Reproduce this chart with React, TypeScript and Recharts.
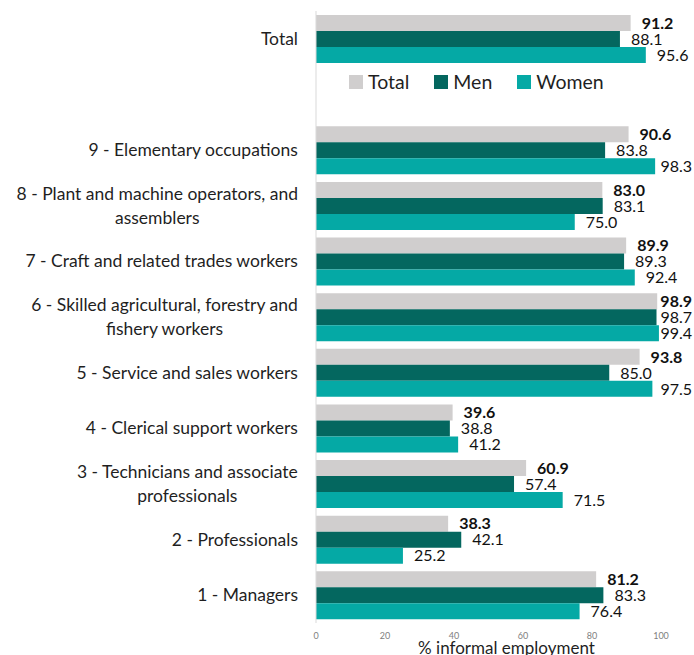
import React from "react";
import { BarChart, Bar, XAxis, YAxis, Legend, LabelList } from "recharts";

const FONT = "Lato, 'Open Sans', sans-serif";
const COLORS = { total: "#d0cece", men: "#04675f", women: "#05a9a5" };

// occupation groups, top to bottom ("" is the spacer row holding the legend)
const categories = [
    "Total",
    "",
    "9 - Elementary occupations",
    "8 - Plant and machine operators, and\nassemblers",
    "7 - Craft and related trades workers",
    "6 - Skilled agricultural, forestry and\nfishery workers",
    "5 - Service and sales workers",
    "4 - Clerical support workers",
    "3 - Technicians and associate\nprofessionals",
    "2 - Professionals",
    "1 - Managers",
];

const totalValues = [91.2, null, 90.6, 83.0, 89.9, 98.9, 93.8, 39.6, 60.9, 38.3, 81.2];
const menValues = [88.1, null, 83.8, 83.1, 89.3, 98.7, 85.0, 38.8, 57.4, 42.1, 83.3];
const womenValues = [95.6, null, 98.3, 75.0, 92.4, 99.4, 97.5, 41.2, 71.5, 25.2, 76.4];

const seriesOrder = ["Total", "Men", "Women"];
const xTicks = [0, 20, 40, 60, 80, 100];

const data = categories.map((name, i) => ({
    name,
    Total: totalValues[i],
    Men: menValues[i],
    Women: womenValues[i],
}));

const TICK_SIZE = 17.5;
const VALUE_SIZE = 16;
const LABEL_RIGHT_LIMIT = 692;

let canvasCtx: CanvasRenderingContext2D | null = null;
function textWidth(s: string, size: number, weight = 400) {
    if (!canvasCtx) canvasCtx = document.createElement("canvas").getContext("2d");
    if (!canvasCtx) return s.length * size * 0.5;
    canvasCtx.font = `${weight} ${size}px ${FONT}`;
    return canvasCtx.measureText(s).width;
}

function CategoryTick(props: any) {
    const { x, y, payload } = props;
    const lines = String(payload.value).split("\n");
    if (!lines[0]) return null;
    const right = x - 10;
    const blockW = Math.max(...lines.map((l) => textWidth(l, TICK_SIZE)));
    const cx = right - blockW / 2;
    const lh = 24;
    const y0 = y - ((lines.length - 1) * lh) / 2;
    return (
        <text textAnchor="middle" fontSize={TICK_SIZE} fill="#1f1f1f" fontFamily={FONT}>
            {lines.map((l, i) => (
                <tspan key={i} x={cx} y={y0 + i * lh} dy="0.35em">
                    {l}
                </tspan>
            ))}
        </text>
    );
}

function valueLabel(bold: boolean) {
    return (props: any) => {
        const { x, y, width, height, value } = props;
        if (value === null || value === undefined) return null;
        const txt = Number(value).toFixed(1);
        const w = textWidth(txt, VALUE_SIZE, bold ? 700 : 400);
        // keep labels inside the chart, as the original does
        const lx = Math.min(x + width + 11, LABEL_RIGHT_LIMIT - w);
        return (
            <text
                x={lx}
                y={y + height / 2}
                dy="0.36em"
                fontSize={VALUE_SIZE}
                fontWeight={bold ? 700 : 400}
                fill="#111"
                fontFamily={FONT}
            >
                {txt}
            </text>
        );
    };
}

function LegendBox(props: any) {
    const items = [...(props.payload || [])].sort(
        (a: any, b: any) => seriesOrder.indexOf(a.value) - seriesOrder.indexOf(b.value)
    );
    return (
        <div style={{ display: "flex", fontFamily: FONT, fontSize: 19.5, color: "#1f1f1f" }}>
            {items.map((it: any) => (
                <div
                    key={it.value}
                    style={{ display: "flex", alignItems: "center", marginRight: 25 }}
                >
                    <span
                        style={{
                            width: 14,
                            height: 14,
                            background: it.color,
                            display: "inline-block",
                            marginRight: 5,
                        }}
                    />
                    <span>{it.value}</span>
                </div>
            ))}
        </div>
    );
}

export default function App() {
    return (
        <div style={{ position: "fixed", top: 0, left: 0, background: "#fff" }}>
            <BarChart
                width={694}
                height={655}
                data={data}
                layout="vertical"
                barSize={16}
                barGap={0}
                margin={{ top: 11, right: 33, bottom: 0, left: 0 }}
                style={{ fontFamily: FONT }}
            >
                <XAxis
                    type="number"
                    domain={[0, 100]}
                    ticks={xTicks}
                    axisLine={false}
                    tickLine={false}
                    tick={{ fontSize: 9, fill: "#808080" }}
                    tickMargin={4}
                    height={32}
                    label={{
                        value: "% informal employment",
                        position: "insideBottom",
                        offset: 1,
                        dx: 18,
                        fontSize: 17,
                        fill: "#1f1f1f",
                    }}
                />
                <YAxis
                    type="category"
                    dataKey="name"
                    width={316}
                    axisLine={{ stroke: "#d9d9d9" }}
                    tickLine={false}
                    interval={0}
                    tick={<CategoryTick />}
                />
                <Legend
                    layout="horizontal"
                    verticalAlign="middle"
                    align="center"
                    content={<LegendBox />}
                    wrapperStyle={{ top: 70, left: 349, width: "auto" }}
                />
                <Bar dataKey="Total" fill={COLORS.total} isAnimationActive={false}>
                    <LabelList dataKey="Total" content={valueLabel(true)} />
                </Bar>
                <Bar dataKey="Men" fill={COLORS.men} isAnimationActive={false}>
                    <LabelList dataKey="Men" content={valueLabel(false)} />
                </Bar>
                <Bar dataKey="Women" fill={COLORS.women} isAnimationActive={false}>
                    <LabelList dataKey="Women" content={valueLabel(false)} />
                </Bar>
            </BarChart>
        </div>
    );
}
